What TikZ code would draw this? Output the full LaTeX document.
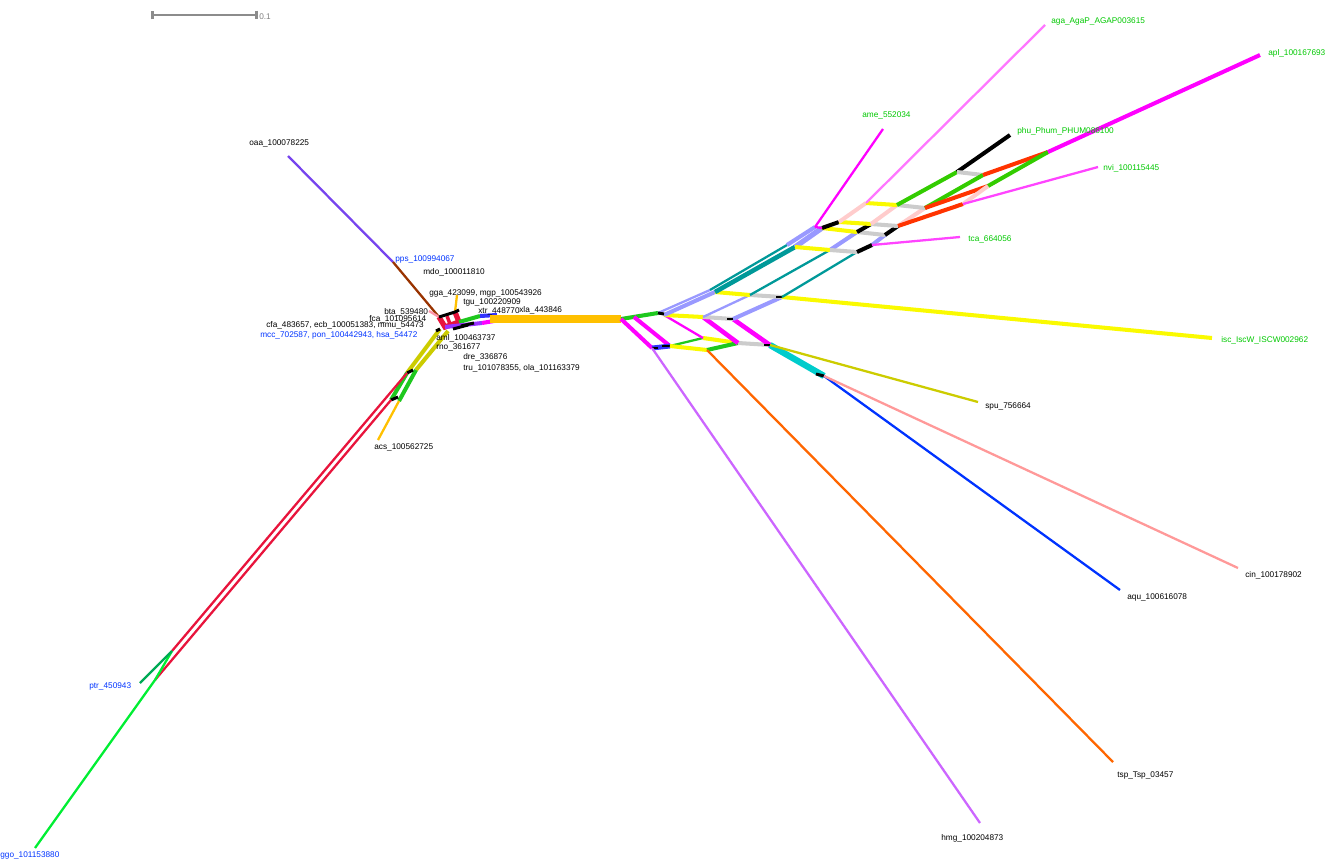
\documentclass[tikz,border=0pt]{standalone}
\usepackage{fontspec}
\setmainfont{Liberation Sans}
\usetikzlibrary{arrows.meta}
\definecolor{cpur}{RGB}{119,68,238}
\definecolor{cbrown}{RGB}{153,51,0}
\definecolor{cgold}{RGB}{255,192,0}
\definecolor{colive}{RGB}{204,204,0}
\definecolor{cred}{RGB}{232,20,60}
\definecolor{cgreen}{RGB}{0,238,51}
\definecolor{cdgreen}{RGB}{0,170,85}
\definecolor{cgrn}{RGB}{30,200,30}
\definecolor{cmag}{RGB}{255,0,255}
\definecolor{clav}{RGB}{153,153,255}
\definecolor{cteal}{RGB}{0,153,153}
\definecolor{cyel}{RGB}{250,250,0}
\definecolor{cgray}{RGB}{204,204,204}
\definecolor{chmg}{RGB}{204,102,255}
\definecolor{ctsp}{RGB}{255,102,0}
\definecolor{caqu}{RGB}{0,51,255}
\definecolor{ccin}{RGB}{255,153,153}
\definecolor{ccyan}{RGB}{0,204,204}
\definecolor{cpink}{RGB}{255,204,204}
\definecolor{caga}{RGB}{255,119,255}
\definecolor{cnvi}{RGB}{255,68,255}
\definecolor{corg}{RGB}{255,51,0}
\definecolor{cphu}{RGB}{51,204,0}
\definecolor{cbta}{RGB}{255,150,170}
\definecolor{cviol}{RGB}{153,51,255}
\definecolor{cblue}{RGB}{51,51,255}
\definecolor{lgreen}{RGB}{0,200,0}
\definecolor{lblue}{RGB}{0,51,255}

\begin{document}
\begin{tikzpicture}[x=0.02cm, y=-0.02cm,
    edge/.style={line width=1.3pt},
    fat/.style={line width=2.3pt},
    nodebar/.style={line width=1.7pt, black},
    lab/.style={anchor=west, inner sep=0pt, font=\fontsize{4.7}{5.5}\selectfont},
    sbar/.style={line width=1.5pt, gray!90, {Bar[width=5pt]}-{Bar[width=5pt]}}]

    \useasboundingbox (0,0) rectangle (1336,859);

    % scale bar
    \coordinate (sb0) at (151,15);
    \coordinate (sb1) at (258,15);
    \draw[sbar] (sb0) -- (sb1);
    \node[lab, text=gray] (sbl) at (259,17) {0.1};

    % core
    \coordinate (oaa) at (288,156);
    \coordinate (pps) at (393,262);
    \coordinate (k1) at (439,317);
    \coordinate (k2) at (455,312);
    \coordinate (k3) at (459,322);
    \coordinate (k4) at (445,327);
    \coordinate (bta) at (429,311);
    \coordinate (tgu) at (457,295);
    \coordinate (g1) at (480,316);
    \coordinate (g2) at (482,323);
    \coordinate (xtr) at (497,315);
    \coordinate (xla) at (500,320);
    \coordinate (tr0) at (490,319);
    \draw[edge, cpur] (oaa) -- (pps);
    \draw[edge, cbrown] (pps) -- (k1);
    \draw[edge, cbta] (bta) -- (k1);
    \draw[edge, cgold] (tgu) -- (k2);
    \draw[line width=3pt, cred] (k1) -- (k4) -- (k3) -- (k2);
    \draw[line width=2pt, cred] (447,316) -- (450,324);
    \draw[nodebar] (k1) -- (k2) -- ++(4,-2);
    \draw[fat, cgrn] (k3) -- (g1);
    \draw[fat, cviol] (k4) -- (g2);
    \draw[nodebar] (453,329) -- (468,325);
    \draw[nodebar] (461,326) -- (474,323);
    \draw[fat, cblue] (g1) -- (xtr);
    \draw[fat, cmag] (g2) -- (xla);

    % primates
    \coordinate (o1) at (440,329);
    \coordinate (o2) at (448,331);
    \coordinate (q1) at (407,373);
    \coordinate (q2) at (391,400);
    \coordinate (q3) at (416,370);
    \coordinate (q4) at (399,401);
    \coordinate (acs) at (378,440);
    \coordinate (p1) at (172,651);
    \coordinate (p2) at (155,680);
    \coordinate (ptr) at (140,683);
    \coordinate (ggo) at (35,848);
    \draw[fat, colive] (o1) -- (q1);
    \draw[fat, colive] (o2) -- (q3);
    \draw[fat, cgrn] (q2) -- (q1);
    \draw[fat, cgrn] (q4) -- (q3);
    \draw[nodebar] (q1) -- ++(6,-3);
    \draw[nodebar] (q2) -- ++(7,-3);
    \draw[nodebar] (o1) -- ++(-4,2);
    \draw[edge, cgold] (q4) -- (acs);
    \draw[edge, cred] (p1) -- (q1);
    \draw[edge, cred] (p2) -- (q2);
    \draw[edge, cgreen] (p1) -- (p2) -- (ggo);
    \draw[edge, cdgreen] (p1) -- (ptr);

    % trunk
    \coordinate (T) at (621,319);
    \draw[line width=4.2pt, cgold] (tr0) -- (T);

    % lower split
    \coordinate (A) at (658,313);
    \coordinate (B) at (634,317);
    \coordinate (A2) at (664,315);
    \coordinate (H1) at (652,348);
    \coordinate (H2) at (670,346);
    \coordinate (M1) at (703,338);
    \coordinate (M2) at (738,343);
    \coordinate (M3) at (770,345);
    \coordinate (Y1) at (703,317);
    \coordinate (Y2) at (733,319);
    \coordinate (Y3) at (707,350);
    \coordinate (C) at (824,376);
    \coordinate (hmg) at (980,823);
    \coordinate (tsp) at (1113,762);
    \coordinate (aqu) at (1120,590);
    \coordinate (cin) at (1238,568);
    \coordinate (spu) at (978,402);
    \draw[fat, cgrn] (T) -- (A);
    \draw[fat, cmag] (T) -- (H1);
    \draw[fat, cmag] (B) -- (H2);
    \draw[line width=2.8pt, cblue] (H1) -- (H2);
    \draw[nodebar] (H1) -- ++(6,0);
    \draw[nodebar] (H2) -- ++(-8,0);
    \draw[edge, chmg] (H1) -- (hmg);
    \draw[edge, cgrn] (H2) -- (M1);
    \draw[fat, cyel] (H2) -- (Y3);
    \draw[fat, cyel] (M1) -- (M2);
    \draw[fat, cgrn] (Y3) -- (M2);
    \draw[fat, cgray] (M2) -- (M3);
    \draw[edge, cmag] (A2) -- (M1);
    \draw[line width=2.6pt, cmag] (Y1) -- (M2);
    \draw[line width=2.6pt, cmag] (Y2) -- (M3);
    \draw[line width=3.6pt, ccyan] (M3) -- (C);
    \draw[nodebar] (M3) -- ++(-6,0);
    \draw[nodebar] (C) -- ++(-8,-2);
    \draw[edge, ctsp] (Y3) -- (tsp);
    \draw[edge, colive] (M3) -- (spu);
    \draw[edge, caqu] (C) -- (aqu);
    \draw[edge, ccin] (C) -- (cin);

    % middle split
    \coordinate (L1) at (710,290);
    \coordinate (L2) at (715,292);
    \coordinate (L3) at (750,295);
    \coordinate (L4) at (782,297);
    \coordinate (lac) at (1212,338);
    \draw[fat, cyel] (A2) -- (Y1);
    \draw[fat, cgray] (Y1) -- (Y2);
    \draw[edge, clav] (A) -- (L1);
    \draw[fat, clav] (A2) -- (L2);
    \draw[edge, clav] (Y1) -- (L3);
    \draw[fat, clav] (Y2) -- (L4);
    \draw[fat, cyel] (L2) -- (L3);
    \draw[fat, cgray] (L3) -- (L4);
    \draw[nodebar] (L4) -- ++(-6,0);
    \draw[nodebar] (Y2) -- ++(-6,0);
    \draw[nodebar] (A) -- ++(6,1);
    \draw[fat, cyel] (L4) -- (lac);

    % upper split
    \coordinate (U1) at (787,245);
    \coordinate (U2) at (795,247);
    \coordinate (U3) at (830,250);
    \coordinate (U4) at (857,252);
    \coordinate (V1) at (815,227);
    \coordinate (V2) at (822,228);
    \coordinate (V3) at (839,222);
    \coordinate (V4) at (857,232);
    \coordinate (W) at (872,245);
    \coordinate (Z) at (885,235);
    \coordinate (X1) at (871,224);
    \coordinate (X2) at (898,226);
    \coordinate (Yp) at (866,203);
    \coordinate (ame) at (883,129);
    \coordinate (tca) at (960,237);
    \coordinate (aga) at (1045,25);
    \draw[edge, cteal] (L1) -- (U1);
    \draw[line width=2.6pt, cteal] (L2) -- (U2);
    \draw[edge, cteal] (L3) -- (U3);
    \draw[edge, cteal] (L4) -- (U4);
    \draw[fat, clav] (U1) -- (V1);
    \draw[line width=3pt, clav] (U2) -- (V2);
    \draw[fat, clav] (U3) -- (V4);
    \draw[fat, clav] (W) -- (Z);
    \draw[fat, cyel] (U2) -- (U3);
    \draw[fat, cgray] (U3) -- (U4);
    \draw[fat, black] (U4) -- (W);
    \draw[fat, cyel] (V2) -- (V4);
    \draw[fat, cgray] (V4) -- (Z);
    \draw[fat, black] (Z) -- (X2);
    \draw[fat, black] (V2) -- (V3);
    \draw[fat, black] (V4) -- (X1);
    \draw[fat, cyel] (V3) -- (X1);
    \draw[fat, cgray] (X1) -- (X2);
    \draw[edge, cmag] (V1) -- (ame);
    \draw[edge, cmag] (V1) -- (V2);
    \draw[edge, cnvi] (W) -- (tca);

    % insects
    \coordinate (n1) at (897,205);
    \coordinate (n2) at (925,208);
    \coordinate (n3) at (957,172);
    \coordinate (n4) at (983,175);
    \coordinate (n5) at (988,186);
    \coordinate (n7) at (963,204);
    \coordinate (P) at (1048,152);
    \coordinate (phu) at (1010,135);
    \coordinate (apl) at (1260,55);
    \coordinate (nvi) at (1098,167);
    \draw[fat, cpink] (V3) -- (Yp);
    \draw[fat, cpink] (X1) -- (n1);
    \draw[fat, cpink] (X2) -- (n2);
    \draw[fat, cyel] (Yp) -- (n1);
    \draw[fat, cgray] (n1) -- (n2);
    \draw[edge, caga] (Yp) -- (aga);
    \draw[fat, cphu] (n1) -- (n3);
    \draw[fat, black] (n3) -- (phu);
    \draw[fat, cgray] (n3) -- (n4);
    \draw[fat, cphu] (n2) -- (n4);
    \draw[fat, corg] (n4) -- (P);
    \draw[fat, corg] (n2) -- (n5);
    \draw[fat, cphu] (n5) -- (P);
    \draw[fat, corg] (X2) -- (n7);
    \draw[fat, cpink] (n7) -- (n5);
    \draw[edge, cnvi] (n7) -- (nvi);
    \draw[fat, cmag] (P) -- (apl);

    % labels
    \node[lab, text=lgreen] (aga-l) at (1051,21) {aga\_AgaP\_AGAP003615};
    \node[lab, text=lgreen] (apl-l) at (1268,53) {apl\_100167693};
    \node[lab, text=lgreen] (ame-l) at (862,115) {ame\_552034};
    \node[lab, text=lgreen] (phu-l) at (1017,131) {phu\_Phum\_PHUM086100};
    \node[lab, text=lgreen] (nvi-l) at (1103,168) {nvi\_100115445};
    \node[lab, text=lgreen] (tca-l) at (968,239) {tca\_664056};
    \node[lab, text=lgreen] (isc-l) at (1221,340) {isc\_IscW\_ISCW002962};
    \node[lab] (spu-l) at (985,406) {spu\_756664};
    \node[lab] (cin-l) at (1245,575) {cin\_100178902};
    \node[lab] (aqu-l) at (1127,597) {aqu\_100616078};
    \node[lab] (tsp-l) at (1117,775) {tsp\_Tsp\_03457};
    \node[lab] (hmg-l) at (941,838) {hmg\_100204873};
    \node[lab] (oaa-l) at (249,143) {oaa\_100078225};
    \node[lab, text=lblue] (pps-l) at (395,259) {pps\_100994067};
    \node[lab] (mdo-l) at (423,272) {mdo\_100011810};
    \node[lab] (gga-l) at (429,293) {gga\_423099, mgp\_100543926};
    \node[lab] (tgu-l) at (463,302) {tgu\_100220909};
    \node[lab] (xtr-l) at (478,311) {xtr\_448770};
    \node[lab] (xla-l) at (519,310) {xla\_443846};
    \node[lab] (bta-l) at (384,312) {bta\_539480};
    \node[lab] (fca-l) at (369,319) {fca\_101095614};
    \node[lab] (cfa-l) at (266,325) {cfa\_483657, ecb\_100051383, mmu\_54473};
    \node[lab, text=lblue] (mcc-l) at (260,335) {mcc\_702587, pon\_100442943, hsa\_54472};
    \node[lab] (aml-l) at (436,338) {aml\_100463737};
    \node[lab] (rno-l) at (436,347) {rno\_361677};
    \node[lab] (dre-l) at (463,357) {dre\_336876};
    \node[lab] (tru-l) at (463,368) {tru\_101078355, ola\_101163379};
    \node[lab] (acs-l) at (374,447) {acs\_100562725};
    \node[lab, text=lblue] (ptr-l) at (89,686) {ptr\_450943};
    \node[lab, text=lblue] (ggo-l) at (0,855) {ggo\_101153880};
\end{tikzpicture}
\end{document}
